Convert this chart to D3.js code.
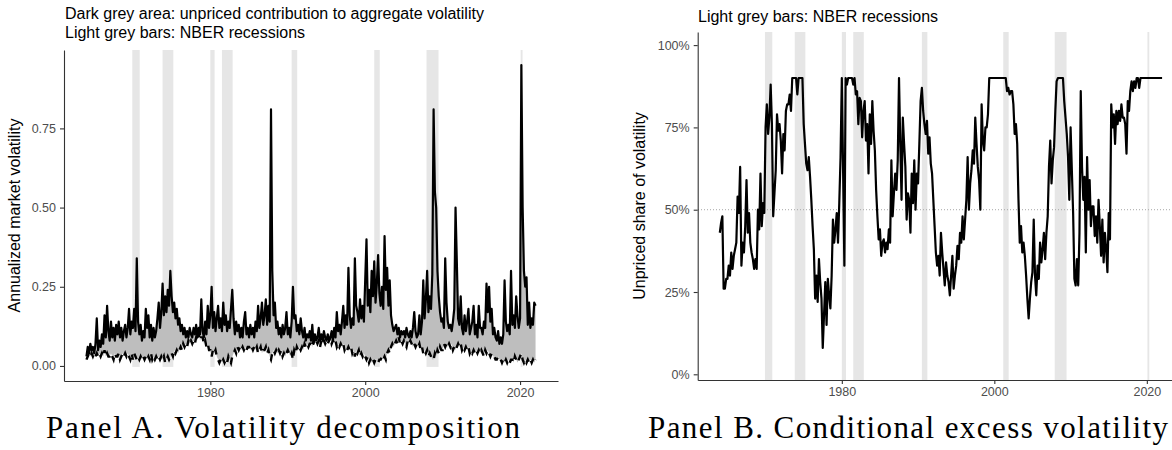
<!DOCTYPE html>
<html>
<head>
<meta charset="utf-8">
<script src="https://cdn.jsdelivr.net/npm/d3@7"></script>
<style>
  body { margin: 0; background: #fff; }
  svg { display: block; }
</style>
</head>
<body>
<svg id="chart" width="1172" height="450"></svg>
<script>
// bi-monthly observations (6 per year), first one at 1964.00
const startYear = 1964;
const step = 1 / 6;

// Panel A: total (solid) and priced (dashed) annualized volatility
const totalVol = [
  0.03, 0.06, 0.04, 0.07, 0.05, 0.06,  0.04, 0.07, 0.15, 0.05, 0.08, 0.06,
  0.10, 0.07, 0.16, 0.09, 0.19, 0.11,  0.08, 0.14, 0.09, 0.12, 0.08, 0.13,
  0.10, 0.14, 0.09, 0.12, 0.08, 0.11,  0.13, 0.09, 0.12, 0.18, 0.10, 0.14,
  0.12, 0.18, 0.11, 0.34, 0.14, 0.10,  0.13, 0.08, 0.11, 0.09, 0.18, 0.12,
  0.16, 0.09, 0.13, 0.08, 0.12, 0.09,  0.11, 0.15, 0.20, 0.12, 0.17, 0.26,
  0.16, 0.22, 0.17, 0.24, 0.19, 0.30,  0.22, 0.17, 0.20, 0.15, 0.18, 0.13,
  0.15, 0.11, 0.13, 0.10, 0.12, 0.09,  0.11, 0.09, 0.12, 0.10, 0.09, 0.12,
  0.10, 0.13, 0.09, 0.12, 0.10, 0.21,  0.11, 0.09, 0.14, 0.10, 0.19, 0.12,
  0.16, 0.25, 0.12, 0.17, 0.11, 0.15,  0.19, 0.12, 0.15, 0.11, 0.20, 0.13,
  0.16, 0.11, 0.14, 0.12, 0.18, 0.24,  0.15, 0.10, 0.14, 0.11, 0.13, 0.09,
  0.12, 0.09, 0.14, 0.17, 0.10, 0.12,  0.09, 0.13, 0.10, 0.12, 0.09, 0.14,
  0.11, 0.19, 0.12, 0.15, 0.20, 0.13,  0.16, 0.21, 0.13, 0.19, 0.14, 0.81,
  0.30, 0.16, 0.20, 0.12, 0.14, 0.10,  0.12, 0.09, 0.13, 0.10, 0.12, 0.17,
  0.10, 0.12, 0.09, 0.14, 0.25, 0.15,  0.16, 0.11, 0.13, 0.10, 0.15, 0.11,
  0.09, 0.12, 0.08, 0.10, 0.09, 0.11,  0.08, 0.13, 0.07, 0.10, 0.08, 0.09,
  0.12, 0.08, 0.10, 0.08, 0.11, 0.09,  0.08, 0.10, 0.08, 0.09, 0.11, 0.08,
  0.12, 0.09, 0.17, 0.11, 0.13, 0.10,  0.14, 0.19, 0.12, 0.16, 0.13, 0.31,
  0.16, 0.12, 0.15, 0.13, 0.34, 0.19,  0.17, 0.14, 0.21, 0.15, 0.19, 0.14,
  0.27, 0.40, 0.19, 0.24, 0.17, 0.30,  0.22, 0.33, 0.20, 0.26, 0.35, 0.23,
  0.19, 0.25, 0.18, 0.41, 0.24, 0.31,  0.19, 0.27, 0.16, 0.13, 0.11, 0.12,
  0.13, 0.10, 0.12, 0.09, 0.11, 0.10,  0.11, 0.09, 0.12, 0.10, 0.09, 0.11,
  0.09, 0.12, 0.17, 0.11, 0.09, 0.10,  0.16, 0.10, 0.14, 0.27, 0.15, 0.21,
  0.30, 0.17, 0.22, 0.18, 0.29, 0.81,  0.55, 0.50, 0.30, 0.22, 0.17, 0.14,
  0.15, 0.12, 0.34, 0.20, 0.14, 0.12,  0.13, 0.11, 0.14, 0.18, 0.50, 0.33,
  0.15, 0.13, 0.22, 0.12, 0.10, 0.16,  0.11, 0.14, 0.18, 0.10, 0.12, 0.14,
  0.19, 0.10, 0.13, 0.09, 0.19, 0.12,  0.12, 0.10, 0.14, 0.12, 0.26, 0.17,
  0.25, 0.14, 0.18, 0.10, 0.12, 0.09,  0.08, 0.11, 0.07, 0.09, 0.07, 0.10,
  0.27, 0.14, 0.11, 0.13, 0.10, 0.30,  0.13, 0.16, 0.12, 0.22, 0.16, 0.12,
  0.15, 0.95, 0.50, 0.30, 0.25, 0.28,  0.13, 0.20, 0.12, 0.15, 0.13, 0.20,
  0.19
];

const pricedVol = [
  0.02, 0.03, 0.04, 0.03, 0.04, 0.03,  0.04, 0.03, 0.04, 0.03, 0.04, 0.03,
  0.04, 0.03, 0.05, 0.03, 0.04, 0.03,  0.03, 0.04, 0.03, 0.02, 0.04, 0.03,
  0.03, 0.04, 0.02, 0.03, 0.04, 0.03,  0.04, 0.03, 0.04, 0.03, 0.02, 0.04,
  0.02, 0.04, 0.03, 0.02, 0.03, 0.02,  0.03, 0.02, 0.03, 0.02, 0.03, 0.02,
  0.03, 0.02, 0.04, 0.02, 0.03, 0.02,  0.03, 0.02, 0.03, 0.02, 0.03, 0.02,
  0.03, 0.01, 0.02, 0.03, 0.02, 0.03,  0.04, 0.03, 0.05, 0.04, 0.05, 0.04,
  0.05, 0.06, 0.05, 0.07, 0.06, 0.07,  0.06, 0.08, 0.07, 0.08, 0.07, 0.08,
  0.07, 0.09, 0.08, 0.10, 0.08, 0.09,  0.09, 0.07, 0.08, 0.06, 0.07, 0.05,
  0.05, 0.03, 0.05, 0.04, 0.05, 0.03,  0.02, 0.01, 0.02, 0.01, 0.02, 0.01,
  0.02, 0.01, 0.03, 0.02, 0.01, 0.03,  0.04, 0.05, 0.04, 0.06, 0.05, 0.06,
  0.05, 0.06, 0.05, 0.06, 0.05, 0.06,  0.06, 0.05, 0.06, 0.05, 0.06, 0.05,
  0.06, 0.04, 0.05, 0.06, 0.04, 0.05,  0.05, 0.06, 0.04, 0.05, 0.03, 0.02,
  0.04, 0.05, 0.04, 0.05, 0.04, 0.05,  0.04, 0.05, 0.03, 0.04, 0.03, 0.04,
  0.05, 0.04, 0.03, 0.04, 0.02, 0.05,  0.04, 0.06, 0.05, 0.06, 0.05, 0.06,
  0.05, 0.07, 0.06, 0.07, 0.06, 0.07,  0.07, 0.06, 0.08, 0.07, 0.08, 0.07,
  0.08, 0.06, 0.08, 0.07, 0.08, 0.07,  0.08, 0.07, 0.08, 0.09, 0.07, 0.08,
  0.07, 0.08, 0.06, 0.07, 0.06, 0.07,  0.06, 0.07, 0.05, 0.06, 0.05, 0.06,
  0.05, 0.06, 0.04, 0.05, 0.03, 0.05,  0.04, 0.05, 0.03, 0.04, 0.03, 0.04,
  0.03, 0.02, 0.03, 0.01, 0.02, 0.01,  0.02, 0.01, 0.02, 0.02, 0.01, 0.02,
  0.02, 0.03, 0.02, 0.03, 0.02, 0.04,  0.05, 0.04, 0.06, 0.07, 0.06, 0.07,
  0.08, 0.07, 0.09, 0.07, 0.08, 0.07,  0.08, 0.07, 0.06, 0.08, 0.07, 0.08,
  0.07, 0.06, 0.07, 0.06, 0.07, 0.06,  0.07, 0.05, 0.06, 0.04, 0.05, 0.04,
  0.05, 0.03, 0.04, 0.03, 0.02, 0.02,  0.04, 0.03, 0.05, 0.04, 0.06, 0.05,
  0.05, 0.07, 0.06, 0.07, 0.06, 0.07,  0.06, 0.07, 0.05, 0.06, 0.05, 0.06,
  0.07, 0.06, 0.07, 0.05, 0.06, 0.05,  0.06, 0.05, 0.06, 0.04, 0.05, 0.04,
  0.05, 0.04, 0.05, 0.04, 0.05, 0.04,  0.05, 0.04, 0.03, 0.05, 0.04, 0.05,
  0.04, 0.03, 0.04, 0.03, 0.03, 0.02,  0.02, 0.03, 0.02, 0.02, 0.01, 0.02,
  0.01, 0.02, 0.01, 0.02, 0.01, 0.02,  0.02, 0.01, 0.03, 0.02, 0.01, 0.02,
  0.03, 0.04, 0.02, 0.01, 0.02, 0.01,  0.02, 0.01, 0.02, 0.01, 0.02, 0.01,
  0.02
];

// Panel B: unpriced share of volatility
const unpricedShare = [
  0.43, 0.46, 0.48, 0.26, 0.26, 0.29,  0.29, 0.33, 0.30, 0.37, 0.32, 0.36,
  0.38, 0.40, 0.54, 0.49, 0.63, 0.33,  0.40, 0.37, 0.45, 0.59, 0.43, 0.49,
  0.40, 0.37, 0.35, 0.32, 0.35, 0.32,  0.50, 0.44, 0.61, 0.45, 0.52, 0.49,
  0.75, 0.82, 0.73, 0.78, 0.88, 0.76,  0.48, 0.55, 0.62, 0.79, 0.74, 0.76,
  0.71, 0.61, 0.73, 0.68, 0.80, 0.82,  0.82, 0.85, 0.80, 0.90, 0.90, 0.90,
  0.90, 0.85, 0.90, 0.90, 0.90, 0.90,  0.76, 0.70, 0.64, 0.62, 0.66, 0.60,
  0.53, 0.45, 0.38, 0.23, 0.30, 0.22,  0.35, 0.28, 0.23, 0.08, 0.18, 0.28,
  0.15, 0.29, 0.24, 0.20, 0.30, 0.47,  0.40, 0.44, 0.49, 0.40, 0.52, 0.66,
  0.90, 0.62, 0.33, 0.90, 0.88, 0.90,  0.90, 0.90, 0.90, 0.88, 0.90, 0.85,
  0.86, 0.76, 0.84, 0.83, 0.72, 0.80,  0.83, 0.71, 0.76, 0.61, 0.79, 0.70,
  0.83, 0.74, 0.68, 0.56, 0.48, 0.41,  0.44, 0.36, 0.40, 0.41, 0.37, 0.40,
  0.38, 0.44, 0.40, 0.65, 0.48, 0.55,  0.61, 0.56, 0.65, 0.90, 0.70, 0.53,
  0.78, 0.70, 0.63, 0.47, 0.55, 0.53,  0.43, 0.61, 0.52, 0.65, 0.50, 0.61,
  0.58, 0.70, 0.83, 0.87, 0.80, 0.76,  0.73, 0.77, 0.67, 0.72, 0.64, 0.61,
  0.53, 0.45, 0.37, 0.33, 0.36, 0.30,  0.43, 0.37, 0.32, 0.27, 0.34, 0.30,
  0.28, 0.24, 0.30, 0.36, 0.26, 0.30,  0.33, 0.39, 0.35, 0.43, 0.40, 0.48,
  0.41, 0.47, 0.53, 0.66, 0.50, 0.58,  0.62, 0.68, 0.64, 0.78, 0.70, 0.63,
  0.59, 0.50, 0.82, 0.71, 0.68, 0.75,  0.75, 0.79, 0.90, 0.90, 0.90, 0.90,
  0.90, 0.90, 0.90, 0.90, 0.90, 0.90,  0.90, 0.90, 0.90, 0.90, 0.86, 0.87,
  0.85, 0.86, 0.86, 0.82, 0.73, 0.76,  0.70, 0.53, 0.40, 0.45, 0.37, 0.40,
  0.36, 0.30, 0.23, 0.17, 0.23, 0.28,  0.31, 0.47, 0.30, 0.24, 0.33, 0.29,
  0.40, 0.34, 0.38, 0.43, 0.35, 0.43,  0.48, 0.63, 0.71, 0.58, 0.65, 0.69,
  0.80, 0.89, 0.90, 0.90, 0.90, 0.90,  0.90, 0.83, 0.78, 0.73, 0.66, 0.53,
  0.75, 0.62, 0.49, 0.29, 0.27, 0.35,  0.27, 0.43, 0.86, 0.63, 0.53, 0.60,
  0.37, 0.66, 0.50, 0.59, 0.45, 0.51,  0.51, 0.42, 0.48, 0.40, 0.53, 0.45,
  0.36, 0.47, 0.34, 0.43, 0.38, 0.31,  0.49, 0.41, 0.82, 0.75, 0.79, 0.70,
  0.80, 0.76, 0.80, 0.77, 0.82, 0.78,  0.78, 0.76, 0.67, 0.83, 0.80, 0.86,
  0.89, 0.86, 0.89, 0.87, 0.90, 0.90,  0.87, 0.90, 0.90, 0.90, 0.90, 0.90,
  0.90, 0.90, 0.90, 0.90, 0.90, 0.90,  0.90, 0.90, 0.90, 0.90, 0.90, 0.90,
  0.90
];

// NBER recessions [start, end] in decimal years
const recessions = [
  [1969.92, 1970.88], [1973.83, 1975.22], [1980.0, 1980.55], [1981.5, 1982.88],
  [1990.5, 1991.22], [2001.17, 2001.88], [2007.92, 2009.47], [2020.08, 2020.32]
];

const yearTicks = [1980, 2000, 2020];
const volTicks = [0, 0.25, 0.5, 0.75];
const shareTicks = [0, 0.25, 0.5, 0.75, 1];

const years = d3.range(totalVol.length).map(i => startYear + i * step);

const svg = d3.select("#chart");
svg.append("rect").attr("width", 1172).attr("height", 450).attr("fill", "#fff");

const sans = "'Liberation Sans', Arial, sans-serif";
const serif = "'Liberation Serif', 'Times New Roman', serif";

function styleAxis(g){
  g.selectAll(".domain").attr("stroke", "#333").attr("stroke-width", 1.1);
  g.selectAll(".tick line").attr("stroke", "#333").attr("stroke-width", 1.1);
  g.selectAll(".tick text").attr("fill", "#4d4d4d").attr("font-family", sans).attr("font-size", 12.5);
}

// ---------- Panel A ----------
const xA = d3.scaleLinear().domain([1961.1, 2024.9]).range([64, 558]);
const yA = d3.scaleLinear().domain([-0.0475, 0.9975]).range([381, 50]);

const gA = svg.append("g");

gA.selectAll("rect.rec")
  .data(recessions)
  .join("rect")
  .attr("class", "rec")
  .attr("x", d => xA(d[0]))
  .attr("width", d => xA(d[1]) - xA(d[0]))
  .attr("y", yA.range()[1])
  .attr("height", yA(-0.003) - yA.range()[1])
  .attr("fill", "#e6e6e6");

const dataA = years.map((t, i) => ({t, total: totalVol[i], priced: pricedVol[i]}));

gA.append("path")
  .datum(dataA)
  .attr("fill", "#bebebe")
  .attr("d", d3.area().x(d => xA(d.t)).y0(d => yA(d.priced)).y1(d => yA(d.total)));

// dashed priced-volatility line
gA.append("path")
  .datum(dataA)
  .attr("fill", "none")
  .attr("stroke", "#000")
  .attr("stroke-width", 2.4)
  .attr("stroke-dasharray", "6,6")
  .attr("d", d3.line().x(d => xA(d.t)).y(d => yA(d.priced)));

gA.append("path")
  .datum(dataA)
  .attr("fill", "none")
  .attr("stroke", "#000")
  .attr("stroke-width", 2.2)
  .attr("stroke-linejoin", "round")
  .attr("d", d3.line().x(d => xA(d.t)).y(d => yA(d.total)));

gA.append("g")
  .attr("transform", `translate(64,0)`)
  .call(d3.axisLeft(yA).tickValues(volTicks).tickFormat(d3.format(".2f")).tickSize(4).tickPadding(4).tickSizeOuter(0))
  .call(styleAxis);

gA.append("g")
  .attr("transform", `translate(0,381)`)
  .call(d3.axisBottom(xA).tickValues(yearTicks).tickFormat(d3.format("d")).tickSize(4).tickPadding(3).tickSizeOuter(0))
  .call(styleAxis);

gA.append("text")
  .attr("transform", "translate(20,215.5) rotate(-90)")
  .attr("text-anchor", "middle")
  .attr("font-family", sans).attr("font-size", 16)
  .text("Annualized market volatility");

gA.append("text")
  .attr("x", 65).attr("y", 19)
  .attr("font-family", sans).attr("font-size", 16)
  .text("Dark grey area: unpriced contribution to aggregate volatility");
gA.append("text")
  .attr("x", 65).attr("y", 38)
  .attr("font-family", sans).attr("font-size", 16)
  .text("Light grey bars: NBER recessions");

gA.append("text")
  .attr("x", 46).attr("y", 438)
  .attr("font-family", serif).attr("font-size", 31)
  .attr("textLength", 474).attr("lengthAdjust", "spacing")
  .text("Panel A. Volatility decomposition");

// ---------- Panel B ----------
const xB = d3.scaleLinear().domain([1961.1, 2024.9]).range([697.7, 1184.2]);
const yB = d3.scaleLinear().domain([-0.0173, 1.0398]).range([380, 32]);

const gB = svg.append("g");

gB.selectAll("rect.rec")
  .data(recessions)
  .join("rect")
  .attr("class", "rec")
  .attr("x", d => xB(d[0]))
  .attr("width", d => xB(d[1]) - xB(d[0]))
  .attr("y", 32)
  .attr("height", 380 - 32)
  .attr("fill", "#e6e6e6");

gB.append("line")
  .attr("x1", 698).attr("x2", 1172)
  .attr("y1", yB(0.5)).attr("y2", yB(0.5))
  .attr("stroke", "#a8a8a8")
  .attr("stroke-width", 1)
  .attr("stroke-dasharray", "1,2");

const dataB = years.map((t, i) => ({t, share: unpricedShare[i]}));

gB.append("path")
  .datum(dataB)
  .attr("fill", "none")
  .attr("stroke", "#000")
  .attr("stroke-width", 2.2)
  .attr("stroke-linejoin", "round")
  .attr("d", d3.line().x(d => xB(d.t)).y(d => yB(d.share)));

gB.append("g")
  .attr("transform", `translate(697.7,0)`)
  .call(d3.axisLeft(yB).tickValues(shareTicks).tickFormat(d3.format(".0%")).tickSize(4).tickPadding(4).tickSizeOuter(0))
  .call(styleAxis);

gB.append("g")
  .attr("transform", `translate(0,380)`)
  .call(d3.axisBottom(xB).tickValues(yearTicks).tickFormat(d3.format("d")).tickSize(4).tickPadding(3).tickSizeOuter(0))
  .call(styleAxis);

gB.append("text")
  .attr("transform", "translate(645,206) rotate(-90)")
  .attr("text-anchor", "middle")
  .attr("font-family", sans).attr("font-size", 16)
  .text("Unpriced share of volatility");

gB.append("text")
  .attr("x", 698).attr("y", 22)
  .attr("font-family", sans).attr("font-size", 16)
  .text("Light grey bars: NBER recessions");

gB.append("text")
  .attr("x", 648).attr("y", 438)
  .attr("font-family", serif).attr("font-size", 31)
  .attr("textLength", 520).attr("lengthAdjust", "spacing")
  .text("Panel B. Conditional excess volatility");
</script>
</body>
</html>
